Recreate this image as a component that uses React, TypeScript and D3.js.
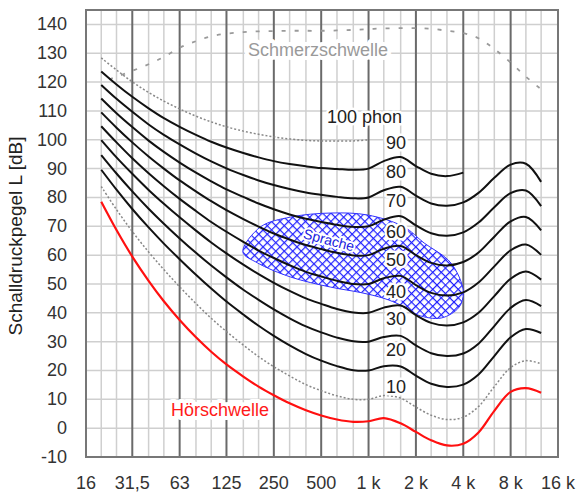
import React from "react";
import * as d3 from "d3";

// ---- data ----
const freqs = [20, 25, 31.5, 40, 50, 63, 80, 100, 125, 160, 200, 250, 315, 400, 500, 630, 800, 1000, 1250, 1600, 2000, 2500, 3150, 4000, 5000, 6300, 8000, 10000, 12500];

const hoerschwelle = [78.5, 68.7, 59.5, 51.1, 44.0, 37.5, 31.5, 26.5, 22.1, 17.9, 14.4, 11.4, 8.6, 6.2, 4.4, 3.0, 2.2, 2.4, 3.5, 1.7, -1.3, -4.2, -6.0, -5.4, -1.5, 6.0, 12.6, 13.9, 12.3];
const phon10 = [83.8, 75.8, 68.2, 61.1, 55.0, 49.0, 43.2, 38.1, 33.5, 28.8, 24.8, 21.3, 18.1, 15.1, 13.0, 11.2, 10.0, 10.0, 11.3, 10.4, 7.3, 4.5, 3.0, 3.8, 7.5, 14.4, 21.0, 23.4, 22.3];
const phon20 = [89.6, 82.7, 76.0, 69.6, 64.0, 58.6, 53.2, 48.4, 43.9, 39.4, 35.5, 32.0, 28.7, 25.7, 23.4, 21.5, 20.1, 20.0, 21.5, 21.4, 18.2, 15.4, 14.3, 15.1, 18.6, 25.0, 31.5, 34.4, 33.0];
const phon30 = [94.7, 88.3, 82.1, 76.1, 70.9, 65.8, 60.8, 56.4, 52.3, 48.0, 44.5, 41.2, 38.1, 35.3, 33.2, 31.4, 30.1, 30.0, 31.6, 32.0, 28.7, 26.0, 25.0, 25.9, 29.3, 35.4, 41.7, 44.4, 42.3];
const phon40 = [99.9, 93.9, 88.2, 82.6, 77.8, 73.1, 68.5, 64.4, 60.6, 56.7, 53.4, 50.4, 47.6, 45.0, 43.1, 41.3, 40.1, 40.0, 41.8, 42.5, 39.2, 36.5, 35.6, 36.7, 40.0, 45.8, 51.8, 54.3, 51.5];
const phon50 = [104.7, 99.1, 93.6, 88.4, 83.9, 79.5, 75.3, 71.5, 68.1, 64.6, 61.6, 59.0, 56.5, 54.2, 52.6, 51.1, 50.0, 50.0, 52.0, 52.8, 49.6, 46.9, 46.0, 47.1, 50.5, 56.1, 61.7, 63.7, 60.1];
const phon60 = [109.5, 104.2, 99.1, 94.2, 90.0, 85.9, 82.1, 78.7, 75.6, 72.5, 69.9, 67.5, 65.4, 63.5, 62.1, 60.8, 59.9, 60.0, 62.2, 63.2, 60.0, 57.3, 56.4, 57.6, 60.9, 66.4, 71.7, 73.2, 68.6];
const phon70 = [114.3, 109.2, 104.4, 99.7, 95.8, 92.1, 88.6, 85.6, 82.8, 80.2, 77.9, 75.9, 74.1, 72.6, 71.5, 70.5, 69.8, 70.0, 72.3, 73.5, 70.3, 67.6, 66.7, 67.9, 71.3, 76.6, 81.5, 82.4, 77.0];
const phon80 = [119.0, 114.2, 109.7, 105.3, 101.7, 98.4, 95.2, 92.5, 90.1, 87.8, 85.9, 84.3, 82.9, 81.7, 80.9, 80.2, 79.7, 80.0, 82.5, 83.7, 80.6, 77.9, 77.1, 78.3, 81.6, 86.8, 91.4, 91.7, 85.4];
const phon90 = [123.7, 119.2, 114.9, 110.9, 107.5, 104.5, 101.7, 99.3, 97.3, 95.4, 93.9, 92.6, 91.6, 90.8, 90.2, 89.9, 89.6, 90.0, 92.6, 94.0, 90.9, 88.2, 87.4, 88.6];
const phon100 = [128.4, 124.2, 120.1, 116.4, 113.4, 110.7, 108.2, 106.2, 104.5, 103.0, 101.9, 101.0, 100.3, 99.8, 99.6, 99.6, 99.6, 100.0];

const schmerzFreqs = [22.4, 25, 31.5, 40, 50, 63, 80, 100, 125, 160, 200, 250, 315, 400, 500, 630, 800, 1000, 1250, 1600, 2000, 2500, 3150, 4000, 5000, 6300, 8000, 10000, 12500];
const schmerzschwelle = [120.9, 121.8, 123.9, 126.2, 128.7, 131.9, 134.2, 135.9, 136.8, 137.3, 137.6, 137.7, 137.8, 137.8, 137.8, 137.9, 138.1, 138.4, 138.6, 138.7, 138.7, 138.5, 137.8, 137.0, 135.2, 131.5, 126.8, 121.9, 117.5];

const spracheFreqs = [159, 206, 320, 576, 990, 1680, 2256, 3210, 3770, 4000, 3770, 2900, 2065, 1610, 1254, 895, 576, 320, 197];
const spracheDb = [61.1, 69.8, 73.2, 74.6, 73.9, 69.8, 64.2, 58.3, 52.4, 46.9, 42.0, 38.2, 39.2, 42.6, 45.0, 47.0, 48.9, 52.4, 57.3];

const yTicks = [-10, 0, 10, 20, 30, 40, 50, 60, 70, 80, 90, 100, 110, 120, 130, 140];
const octaveTicks = [16, 31.5, 63, 125, 250, 500, 1000, 2000, 4000, 8000, 16000];
const octaveLabels = ["16", "31,5", "63", "125", "250", "500", "1 k", "2 k", "4 k", "8 k", "16 k"];
const thirdOctaves = [20, 25, 40, 50, 80, 100, 160, 200, 315, 400, 630, 800, 1250, 1600, 2500, 3150, 5000, 6300, 10000, 12500];
const phonLabels = ["10", "20", "30", "40", "50", "60", "70", "80", "90"];

export default function App() {
  const W = 576, H = 496;
  const left = 86, right = 558, top = 10, bottom = 457;
  const x = d3.scaleLog().domain([16, 16000]).range([left, right]);
  const y = d3.scaleLinear().domain([-10, 145]).range([bottom, top]);
  const font = "Liberation Sans, Arial, Helvetica, sans-serif";

  const mk = (fs: number[], vs: number[]) =>
    d3.line<number>().x((_, i) => x(fs[i])).y((v) => y(v)).curve(d3.curveCatmullRom.alpha(0.5))(vs) || "";

  const blackCurves = [phon20, phon30, phon40, phon50, phon60, phon70, phon80, phon90];
  const blob =
    d3
      .line<number>()
      .x((_, i) => x(spracheFreqs[i]))
      .y((v) => y(v))
      .curve(d3.curveCatmullRomClosed.alpha(0.5))(spracheDb) || "";

  // label centres in dB
  const labelDb = [14.3, 27.1, 37.9, 47.2, 58.3, 68.0, 78.8, 88.8, 98.9];

  const halo = { stroke: "#fff", strokeWidth: 5, paintOrder: "stroke" as const, strokeLinejoin: "round" as const };

  return (
    <svg width={W} height={H} style={{ display: "block", position: "absolute", left: 0, top: 0, background: "#fff" }} fontFamily={font}>
      <defs>
        <pattern id="hatch" width={6} height={6} patternUnits="userSpaceOnUse" patternTransform="rotate(45)">
          <rect width={6} height={6} fill="#fff" />
          <line x1={0} y1={0} x2={6} y2={0} stroke="#2020ff" strokeWidth={2.4} />
          <line x1={0} y1={0} x2={0} y2={6} stroke="#2020ff" strokeWidth={2.4} />
        </pattern>
        <clipPath id="plot">
          <rect x={left} y={top} width={right - left} height={bottom - top} />
        </clipPath>
      </defs>

      {/* grid */}
      {yTicks.map((t) => (
        <line key={"h" + t} x1={left} x2={right} y1={y(t)} y2={y(t)} stroke="#cfcfcf" strokeWidth={1.5} />
      ))}
      {thirdOctaves.map((f) => (
        <line key={"v" + f} x1={x(f)} x2={x(f)} y1={top} y2={bottom} stroke="#cfcfcf" strokeWidth={1.5} />
      ))}
      {octaveTicks.map((f) => (
        <line key={"o" + f} x1={x(f)} x2={x(f)} y1={top} y2={bottom} stroke="#6a6a6a" strokeWidth={2} />
      ))}

      {/* speech area */}
      <path d={blob} fill="url(#hatch)" stroke="#3030ff" strokeWidth={1} />
      <text x={0} y={0} transform={`translate(329,240) rotate(15)`} textAnchor="middle" dominantBaseline="central" fontSize={14} fill="#2020e0" {...halo} strokeWidth={4}>
        Sprache
      </text>

      <g clipPath="url(#plot)" fill="none">
        <path d={mk(schmerzFreqs, schmerzschwelle)} stroke="#9a9a9a" strokeWidth={1.8} strokeDasharray="4,9" />
        <path d={mk(freqs, phon100)} stroke="#888" strokeWidth={1.5} strokeDasharray="2,2" />
        <path d={mk(freqs, phon10)} stroke="#888" strokeWidth={1.5} strokeDasharray="2,2" />
        {blackCurves.map((c, i) => (
          <path key={i} d={mk(freqs, c)} stroke="#111" strokeWidth={2} />
        ))}
        <path d={mk(freqs, hoerschwelle)} stroke="#ff1010" strokeWidth={2.2} />
      </g>

      {/* frame */}
      <rect x={left} y={top} width={right - left} height={bottom - top} fill="none" stroke="#777" strokeWidth={2} />

      {/* curve labels */}
      {phonLabels.map((l, i) => (
        <text key={l} x={406} y={y(labelDb[i])} textAnchor="end" dominantBaseline="central" fontSize={18} fill="#222" {...halo}>
          {l}
        </text>
      ))}
      <text x={402} y={y(107.9)} textAnchor="end" dominantBaseline="central" fontSize={18} fill="#222" {...halo}>
        100 phon
      </text>
      <text x={248} y={50} dominantBaseline="central" fontSize={18} fill="#9a9a9a" {...halo} strokeWidth={8}>
        Schmerzschwelle
      </text>
      <text x={171} y={410} dominantBaseline="central" fontSize={18} fill="#ff1a1a" {...halo} strokeWidth={8}>
        Hörschwelle
      </text>

      {/* axes labels */}
      {yTicks.map((t) => (
        <text key={"yl" + t} x={67} y={y(t)} textAnchor="end" dominantBaseline="central" fontSize={18} fill="#333">
          {t}
        </text>
      ))}
      {octaveTicks.map((f, i) => (
        <text key={"xl" + f} x={x(f)} y={483} textAnchor="middle" dominantBaseline="central" fontSize={18} fill="#333">
          {octaveLabels[i]}
        </text>
      ))}
      <text transform={`translate(15,236) rotate(-90)`} textAnchor="middle" dominantBaseline="central" fontSize={19} fill="#222">
        Schalldruckpegel L [dB]
      </text>
    </svg>
  );
}
